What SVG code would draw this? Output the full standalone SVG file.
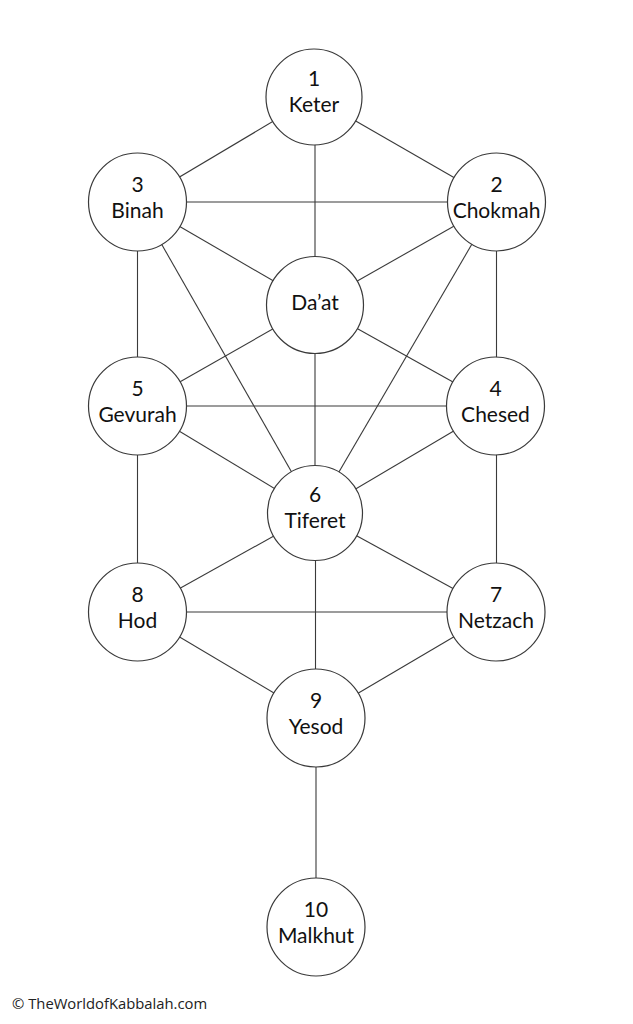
<svg xmlns="http://www.w3.org/2000/svg" width="633" height="1024" viewBox="0 0 633 1024">
<style>
.e{stroke:#3a3a3a;stroke-width:1.1;fill:none}
.n circle{fill:#fff;stroke:#3a3a3a;stroke-width:1.2}
.n text{font-family:Lato,"Liberation Sans",sans-serif;font-size:21px;fill:#111;text-anchor:middle}
.wm{font-family:"Open Sans","Liberation Sans",sans-serif;font-size:14.8px;fill:#222}
</style>
<rect width="633" height="1024" fill="#fff"/>
<g id="connectors">
<line class="e" x1="314" y1="97" x2="137.5" y2="202"/>
<line class="e" x1="314" y1="97" x2="496.5" y2="202"/>
<line class="e" x1="315" y1="97" x2="315" y2="305"/>
<line class="e" x1="137.5" y1="202" x2="496.5" y2="202"/>
<line class="e" x1="137.5" y1="202" x2="315" y2="305"/>
<line class="e" x1="496.5" y1="202" x2="315" y2="305"/>
<line class="e" x1="137.5" y1="202" x2="137.5" y2="406"/>
<line class="e" x1="496.5" y1="202" x2="496.5" y2="406"/>
<line class="e" x1="137.5" y1="202" x2="315" y2="513"/>
<line class="e" x1="496.5" y1="202" x2="315" y2="513"/>
<line class="e" x1="315" y1="305" x2="137.5" y2="406"/>
<line class="e" x1="315" y1="305" x2="496" y2="406"/>
<line class="e" x1="315" y1="305" x2="315" y2="513"/>
<line class="e" x1="137.5" y1="406" x2="496" y2="406"/>
<line class="e" x1="137.5" y1="406" x2="315" y2="513"/>
<line class="e" x1="496" y1="406" x2="315" y2="513"/>
<line class="e" x1="137.5" y1="406" x2="137.5" y2="612"/>
<line class="e" x1="496.5" y1="406" x2="496.5" y2="612"/>
<line class="e" x1="315" y1="513" x2="137.5" y2="612"/>
<line class="e" x1="315" y1="513" x2="496" y2="612"/>
<line class="e" x1="315.5" y1="513" x2="315.5" y2="718"/>
<line class="e" x1="137.5" y1="612" x2="496" y2="612"/>
<line class="e" x1="137.5" y1="612" x2="316" y2="718"/>
<line class="e" x1="496" y1="612" x2="316" y2="718"/>
<line class="e" x1="316" y1="718" x2="316" y2="927"/>
</g>
<g id="keter" class="n"><circle cx="314" cy="97" r="48"/><text x="314" y="86">1</text><text x="314" y="112">Keter</text></g>
<g id="binah" class="n"><circle cx="137.5" cy="202" r="49"/><text x="137.5" y="192">3</text><text x="137.5" y="218">Binah</text></g>
<g id="chokmah" class="n"><circle cx="496.5" cy="202" r="49"/><text x="496.5" y="192">2</text><text x="496.5" y="218">Chokmah</text></g>
<g id="daat" class="n"><circle cx="315" cy="305" r="48.5"/><text x="315" y="310">Da’at</text></g>
<g id="gevurah" class="n"><circle cx="137.5" cy="406" r="49"/><text x="137.5" y="396">5</text><text x="137.5" y="422">Gevurah</text></g>
<g id="chesed" class="n"><circle cx="495.5" cy="406" r="49"/><text x="495.5" y="396">4</text><text x="495.5" y="422">Chesed</text></g>
<g id="tiferet" class="n"><circle cx="315" cy="513" r="47.5"/><text x="315" y="502">6</text><text x="315" y="528">Tiferet</text></g>
<g id="hod" class="n"><circle cx="137.5" cy="612" r="49"/><text x="137.5" y="602">8</text><text x="137.5" y="628">Hod</text></g>
<g id="netzach" class="n"><circle cx="496" cy="612" r="49"/><text x="496" y="602">7</text><text x="496" y="628">Netzach</text></g>
<g id="yesod" class="n"><circle cx="316" cy="718" r="49"/><text x="316" y="708">9</text><text x="316" y="734">Yesod</text></g>
<g id="malkhut" class="n"><circle cx="316" cy="927" r="49"/><text x="316" y="917">10</text><text x="316" y="943">Malkhut</text></g>
<text class="wm" x="12" y="1009">© TheWorldofKabbalah.com</text>
</svg>
